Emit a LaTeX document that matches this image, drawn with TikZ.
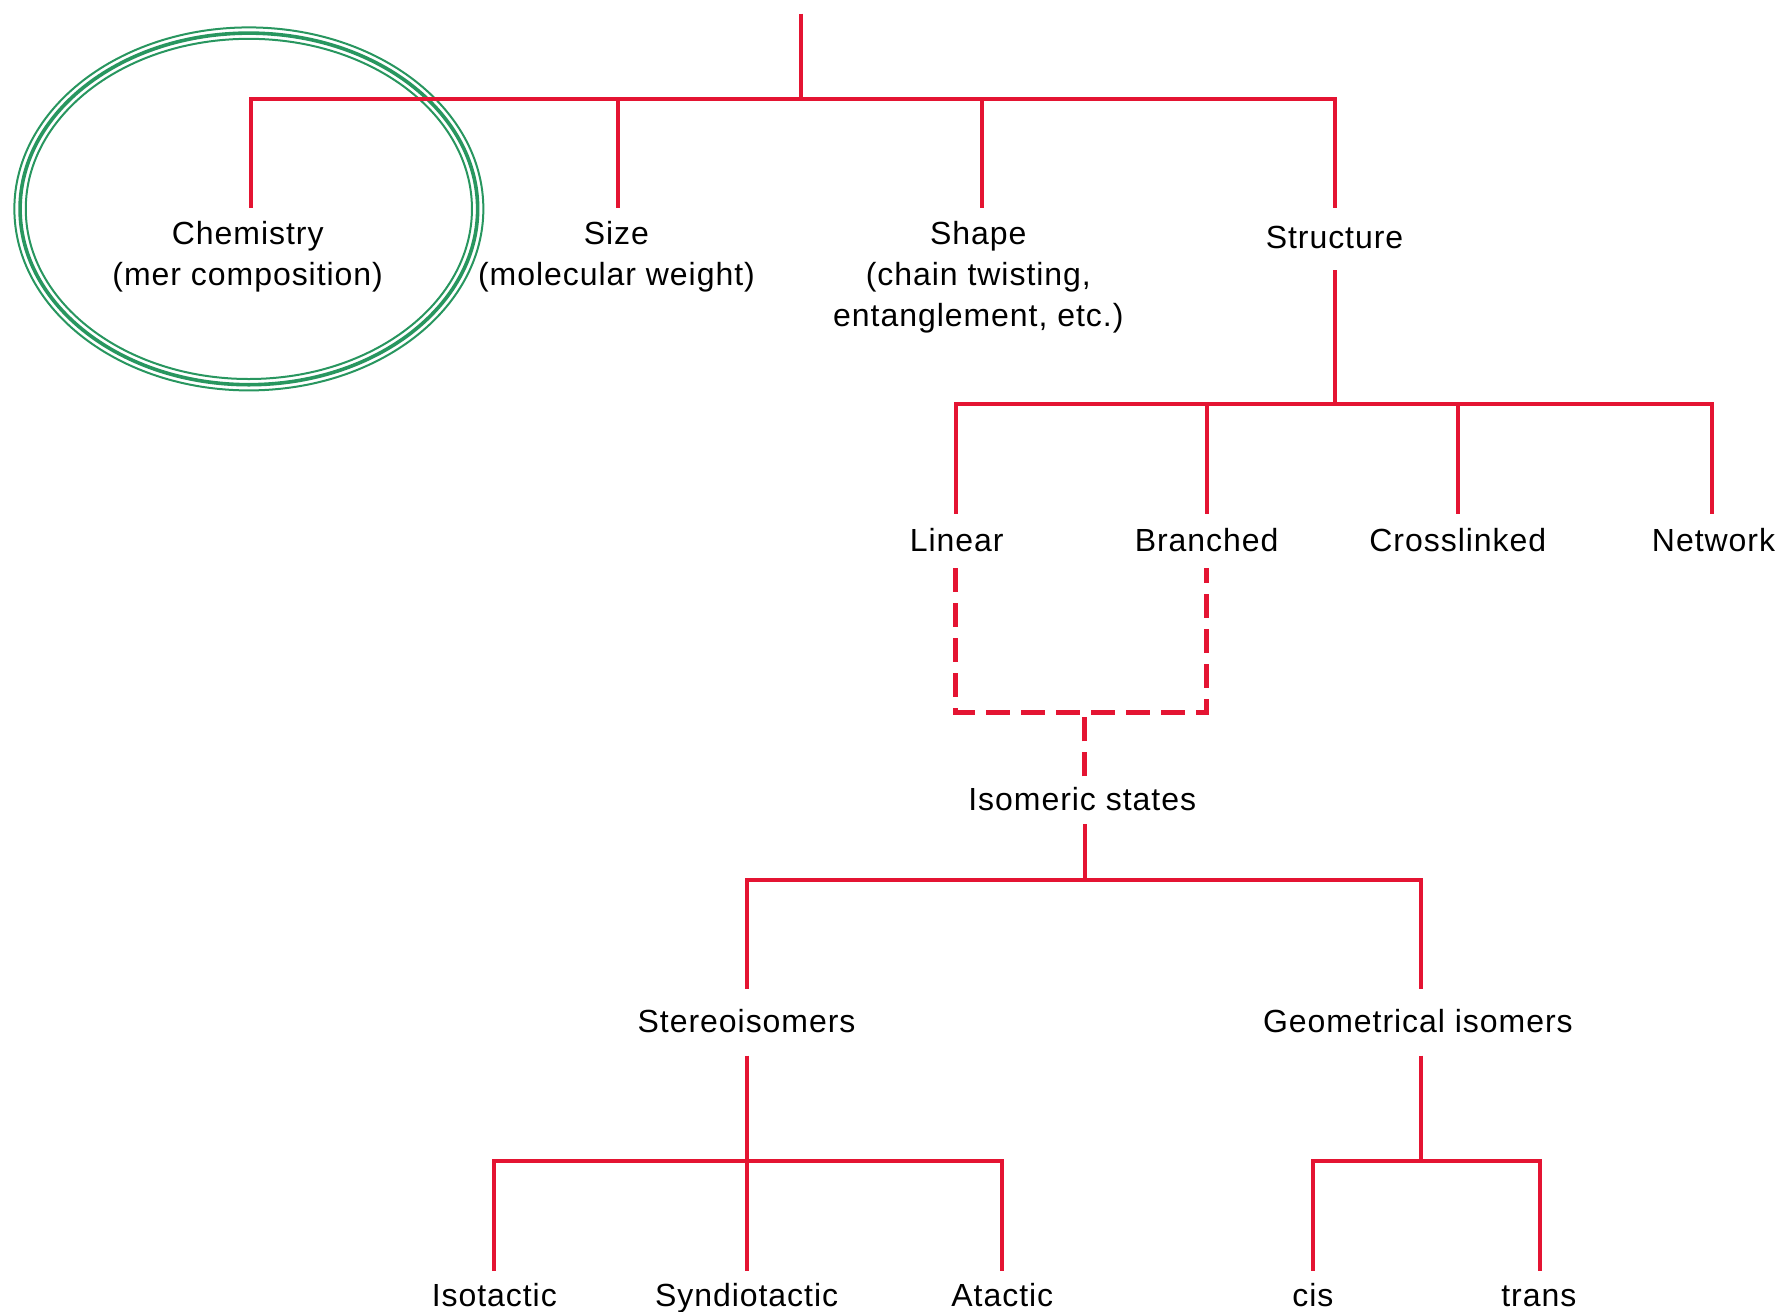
\documentclass[tikz,border=0pt]{standalone}
\usepackage{fontspec}
\setmainfont{Liberation Sans}[LetterSpace=3]
\usetikzlibrary{calc}
\definecolor{lnred}{RGB}{228,20,50}
\definecolor{ringgreen}{RGB}{40,150,95}
\begin{document}
\begin{tikzpicture}[x=1.1416pt,y=-1.1416pt,
  lbl/.style={font=\fontsize{32}{41}\selectfont, inner sep=0pt, anchor=north, align=center, text=black},
  one/.style={lbl, text height=23pt, text depth=7pt},
  tree/.style={draw=lnred, line width=4pt, line join=miter},
  dashedtree/.style={tree, line width=4.5pt, dash pattern=on 24pt off 11pt},
  ring/.style={draw=ringgreen}
]
\path[use as bounding box] (0,0) rectangle (1568,1149);

% green triple ring
\draw[ring, line width=2pt] (218,183) ellipse [x radius=234.5pt, y radius=181.5pt];
\draw[ring, line width=3.6pt] (218,183) ellipse [x radius=228.8pt, y radius=175.8pt];
\draw[ring, line width=2pt] (218,183) ellipse [x radius=223.1pt, y radius=170.1pt];

% nodes
\node[lbl] (chem) at (217,194) {Chemistry\\(mer composition)};
\node[lbl] (size) at (540,194) {Size\\(molecular weight)};
\node[lbl] (shape) at (857,194) {Shape\\(chain twisting,\\entanglement, etc.)};
\node[one] (struct) at (1169,197) {Structure};
\node[one] (lin) at (838,463) {Linear};
\node[one] (bra) at (1057,463) {Branched};
\node[one] (cro) at (1277,463) {Crosslinked};
\node[one] (net) at (1501,463) {Network};
\node[one] (iso) at (948,690) {Isomeric states};
\node[one] (ste) at (654,884) {Stereoisomers};
\node[one] (geo) at (1242,884) {Geometrical isomers};
\node[one] (ist) at (433,1124) {Isotactic};
\node[one] (syn) at (654,1124) {Syndiotactic};
\node[one] (ata) at (878,1124) {Atactic};
\node[one] (cis) at (1150,1124) {cis};
\node[one] (tra) at (1348,1124) {trans};

% junction coordinates
\coordinate (top) at (702,12);
\coordinate (b0) at (702,87);
\coordinate (b1) at (1169,354);
\coordinate (d0) at (950,624);
\coordinate (b2) at (950,771);
\coordinate (b3) at (654,1017);
\coordinate (b4) at (1245,1017);

% level 1
\draw[tree] (top) -- (b0);
\draw[tree] ($(chem.north)+(3,-12)$) |- (b0) -| ($(struct.north)+(0,-15)$);
\draw[tree] (b0) -| ($(size.north)+(1,-12)$);
\draw[tree] (b0) -| ($(shape.north)+(3,-12)$);

% structure
\draw[tree] ($(struct.south)+(0,13)$) -- (b1);
\draw[tree] ($(lin.north)+(-1,-13)$) |- (b1) -| ($(net.north)+(-1,-13)$);
\draw[tree] (b1) -| ($(bra.north)+(0,-13)$);
\draw[tree] (b1) -| ($(cro.north)+(0,-13)$);

% dashed to isomeric states
\draw[dashedtree] ($(lin.south)+(-1,8)$) |- (d0) -| ($(bra.south)+(0,8)$);
\draw[dashedtree] ($(iso.north)+(2,-10)$) -- (d0);

% isomeric states
\draw[tree] ($(iso.south)+(2,5)$) -- (b2);
\draw[tree] ($(ste.north)+(0,-18)$) |- (b2) -| ($(geo.north)+(3,-18)$);

% stereoisomers
\draw[tree] ($(ste.south)+(0,14)$) -- ($(syn.north)+(0,-11)$);
\draw[tree] ($(ist.north)+(0,-11)$) |- (b3) -| ($(ata.north)+(0,-11)$);

% geometrical isomers
\draw[tree] ($(geo.south)+(3,14)$) -- (b4);
\draw[tree] ($(cis.north)+(0,-11)$) |- (b4) -| ($(tra.north)+(1,-11)$);
\end{tikzpicture}
\end{document}
